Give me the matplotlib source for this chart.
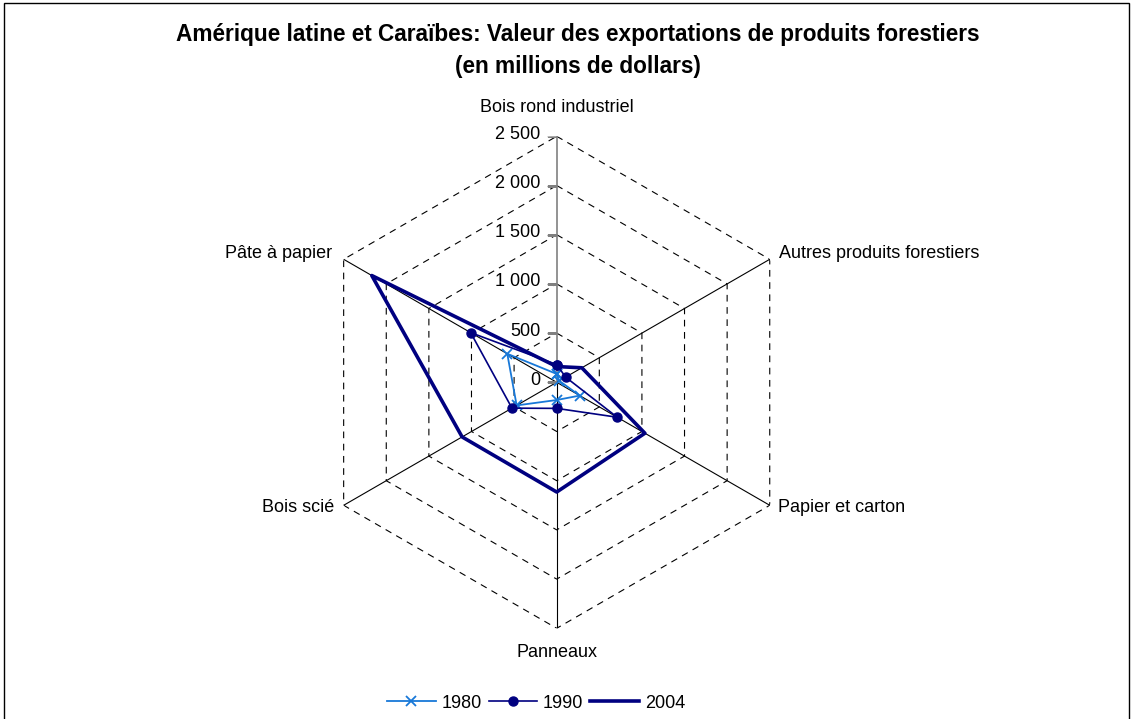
import numpy as np
import matplotlib
matplotlib.use("Agg")
import matplotlib.pyplot as plt
from matplotlib.lines import Line2D
from matplotlib.markers import TICKLEFT
from matplotlib.patches import Rectangle

plt.rcParams['font.family'] = ['Liberation Sans', 'DejaVu Sans']

categories = ['Bois rond industriel', 'Autres produits forestiers', 'Papier et carton',
              'Panneaux', 'Bois scié', 'Pâte à papier']
years = ['1980', '1990', '2004']
v1980 = [85, 30, 270, 180, 470, 580]
v1990 = [180, 105, 710, 265, 525, 1010]
v2004 = [160, 295, 1035, 1115, 1110, 2170]
levels = [0, 500, 1000, 1500, 2000, 2500]
level_labels = ['0', '500', '1 000', '1 500', '2 000', '2 500']
title1 = 'Amérique latine et Caraïbes: Valeur des exportations de produits forestiers'
title2 = '(en millions de dollars)'

W, H = 1133, 719
fig = plt.figure(figsize=(W / 100, H / 100), dpi=100)

cx, cy, R = 556.7, 382.3, 246.0
ax = fig.add_axes([(cx - R) / W, (H - cy - R) / H, 2 * R / W, 2 * R / H], projection='polar')
ax.set_theta_offset(np.pi / 2)
ax.set_theta_direction(-1)
ax.set_ylim(0, levels[-1])
ax.grid(False)
ax.spines['polar'].set_visible(False)
ax.set_xticks([])
ax.set_yticks([])
ax.patch.set_alpha(0)

n = len(categories)
theta = np.arange(n) * 2 * np.pi / n
theta_closed = np.append(theta, theta[0])

FS = 13

# hexagonal dashed grid
for lv in levels[1:]:
    ax.plot(theta_closed, [lv] * (n + 1), color='black', lw=0.8, ls=(0, (6, 5)), zorder=1)
# spokes
for i, t in enumerate(theta):
    ax.plot([t, t], [0, levels[-1]], color='#808080' if i == 0 else 'black',
            lw=1.2 if i == 0 else 0.8, zorder=2)
# value-axis tick marks and labels
for lv, lab in zip(levels, level_labels):
    ax.plot([theta[0]], [lv], marker=TICKLEFT, ms=7, mew=1, color='#808080', zorder=2)
    ax.annotate(lab, xy=(theta[0], lv), xytext=(-16, 2), textcoords='offset pixels',
                ha='right', va='center', fontsize=FS)

# category labels
offsets = [((0, 29), 'center'), ((9, 6), 'left'), ((8, -2), 'left'),
           ((0, -24), 'center'), ((-9, -2), 'right'), ((-12, 6), 'right')]
for t, cat, (off, ha) in zip(theta, categories, offsets):
    ax.annotate(cat, xy=(t, levels[-1]), xytext=off, textcoords='offset pixels',
                ha=ha, va='center', fontsize=FS)

c1980 = '#1878D8'
navy = '#000080'
ax.plot(theta_closed, v1980 + v1980[:1], color=c1980, lw=1.3, marker='x', ms=7, mew=1.3, zorder=4)
ax.plot(theta_closed, v1990 + v1990[:1], color=navy, lw=1.2, marker='o', ms=6.5, zorder=5)
ax.plot(theta_closed, v2004 + v2004[:1], color=navy, lw=2.6, zorder=3)

fig.text(578 / W, 1 - 35 / H, title1, ha='center', va='center', fontsize=16.3, fontweight='bold')
fig.text(578 / W, 1 - 67 / H, title2, ha='center', va='center', fontsize=16.3, fontweight='bold')

handles = [Line2D([], [], color=c1980, lw=1.3, marker='x', ms=7, mew=1.3),
           Line2D([], [], color=navy, lw=1.2, marker='o', ms=6.5),
           Line2D([], [], color=navy, lw=2.6)]
fig.legend(handles, years, loc='center', bbox_to_anchor=(536 / W, 1 - 703 / H), ncol=3,
           frameon=False, fontsize=FS, handlelength=2.7, columnspacing=0.4,
           handletextpad=0.3)

fig.patches.append(Rectangle((4 / W, -0.01), (W - 8) / W, 1 - 3 / H + 0.01,
                             transform=fig.transFigure, fill=False, edgecolor='black', lw=1))

fig.savefig('out.png', dpi=100)
